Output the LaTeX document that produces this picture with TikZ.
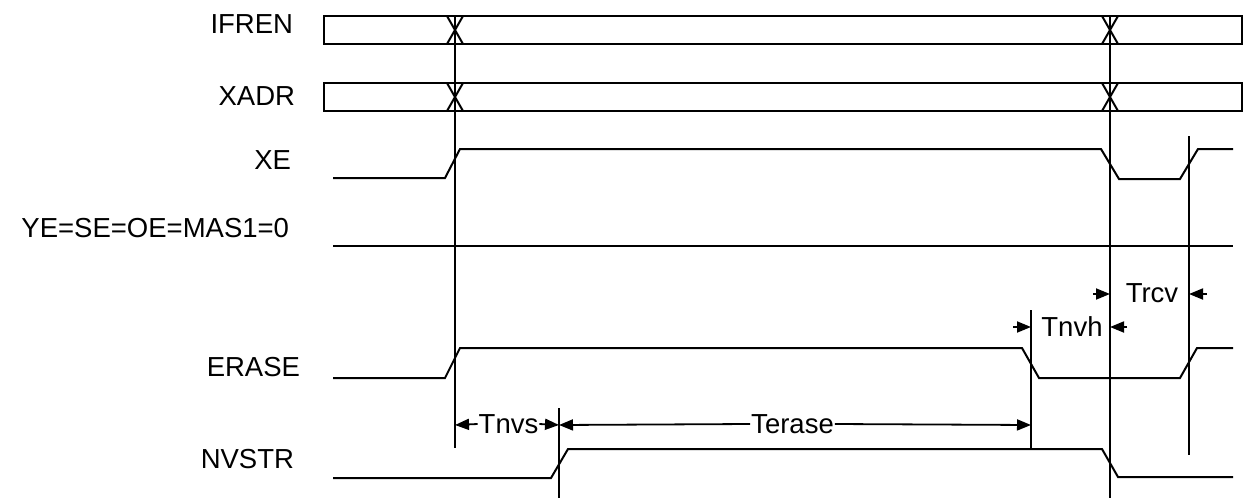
\documentclass[tikz,border=0pt]{standalone}
\usepackage{fontspec}
\setmainfont{Liberation Sans}
\usetikzlibrary{arrows.meta}
\begin{document}
\begin{tikzpicture}[x=1pt,y=-1pt,line width=2pt,
  sig/.style={line width=2pt,line join=miter},
  guide/.style={line width=2pt},
  lbl/.style={anchor=east,inner sep=0pt,font=\fontsize{27.5}{30}\selectfont},
  dimtxt/.style={inner sep=0pt,font=\fontsize{27.5}{30}\selectfont},
  dimarrow/.style={-{Triangle[length=14pt,width=11pt]},line width=1.8pt}]
\useasboundingbox (0,0) rectangle (1243,498);

% labels
\node[lbl] (lifren) at (294,24) {IFREN};
\node[lbl] (lxadr) at (296,96.5) {XADR};
\node[lbl] (lxe) at (292,160) {XE};
\node[lbl] (lye) at (290,228) {YE=SE=OE=MAS1=0};
\node[lbl] (lerase) at (301,367) {ERASE};
\node[lbl] (lnvstr) at (295,459) {NVSTR};

% bus boxes
\draw[sig] (324,16) rectangle (1242,44);
\draw[sig] (324,83) rectangle (1242,111);
\foreach \x in {455,1110}{
  \draw[sig] (\x-8,16) -- (\x+8,44) (\x+8,16) -- (\x-8,44);
  \draw[sig] (\x-8,83) -- (\x+8,111) (\x+8,83) -- (\x-8,111);
}

% XE
\draw[sig] (333,178) -- (445,178) -- (460,149) -- (1101,149) -- (1119,179)
  -- (1180,179) -- (1198,149) -- (1233,149);
% YE=SE=OE=MAS1=0
\draw[sig] (333,246) -- (1233,246);
% ERASE
\draw[sig] (333,378) -- (445,378) -- (460,348) -- (1022,348) -- (1039,378)
  -- (1180,378) -- (1197,348) -- (1233,348);
% NVSTR
\draw[sig] (333,478) -- (551,478) -- (568,449) -- (1102,449) -- (1118,477)
  -- (1233,477);

% guide lines
\coordinate (g1t) at (455,16);   \coordinate (g1b) at (455,448);
\coordinate (g2t) at (1110,16);  \coordinate (g2b) at (1110,498);
\coordinate (g3t) at (1189,136); \coordinate (g3b) at (1189,455);
\coordinate (g4t) at (1031,310); \coordinate (g4b) at (1031,448);
\coordinate (g5t) at (559,408);  \coordinate (g5b) at (559,498);
\draw[guide] (g1t) -- (g1b);
\draw[guide] (g2t) -- (g2b);
\draw[guide] (g3t) -- (g3b);
\draw[guide] (g4t) -- (g4b);
\draw[guide] (g5t) -- (g5b);

% Tnvs
\node[dimtxt] (tnvs) at (508.5,424) {Tnvs};
\draw[dimarrow] (tnvs.west) -- (455,425);
\draw[dimarrow] (tnvs.east) -- (559,425);
% Terase
\node[dimtxt] (terase) at (792.5,424) {Terase};
\draw[dimarrow] (terase.west) -- (559,425);
\draw[dimarrow] (terase.east) -- (1031,425);
% Tnvh
\node[dimtxt] (tnvh) at (1072,327) {Tnvh};
\coordinate (tnvhl) at (1013,327);
\coordinate (tnvhr) at (1127,327);
\draw[dimarrow] (tnvhl) -- (1031,327);
\draw[dimarrow] (tnvhr) -- (1110,327);
% Trcv
\node[dimtxt] (trcv) at (1152,293.5) {Trcv};
\coordinate (trcvl) at (1093,294);
\coordinate (trcvr) at (1207,294);
\draw[dimarrow] (trcvl) -- (1110,294);
\draw[dimarrow] (trcvr) -- (1189,294);
\end{tikzpicture}
\end{document}
